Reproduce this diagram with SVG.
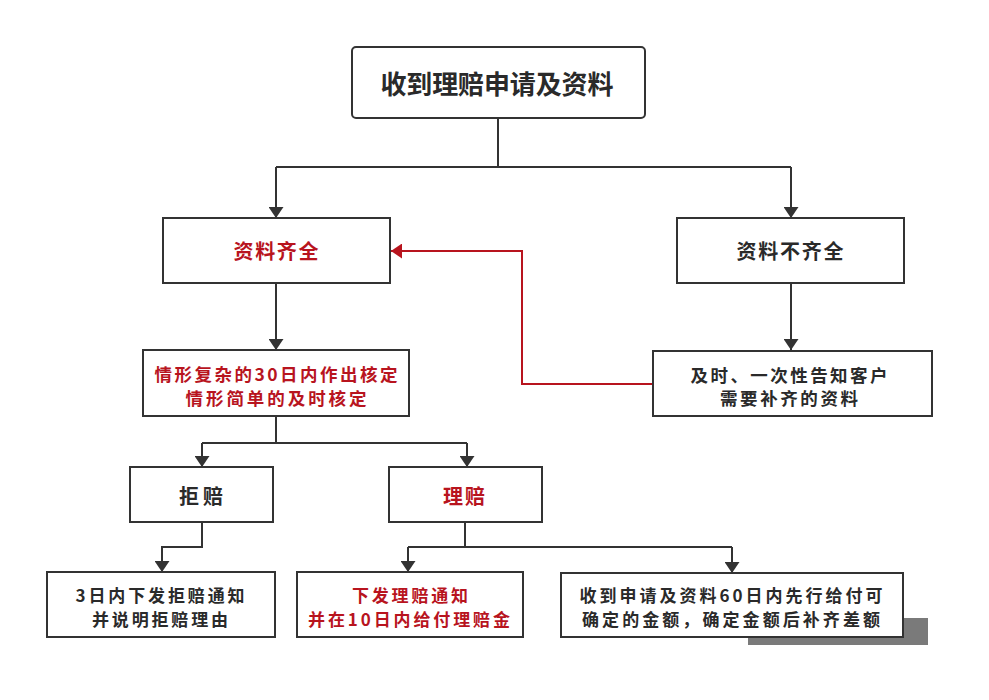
<svg xmlns="http://www.w3.org/2000/svg" width="989" height="700" viewBox="0 0 989 700">
<defs>
<marker id="ah" viewBox="0 0 11 15" refX="11" refY="7.5" markerWidth="11" markerHeight="15" markerUnits="userSpaceOnUse" orient="auto">
<path d="M0,0 L11,7.5 L0,15 Z" fill="#333"/>
</marker>
<marker id="ahr" viewBox="0 0 11 15" refX="11" refY="7.5" markerWidth="11" markerHeight="15" markerUnits="userSpaceOnUse" orient="auto">
<path d="M0,0 L11,7.5 L0,15 Z" fill="#b8141e"/>
</marker>
<style>
.box{fill:#fff;stroke:#333;stroke-width:2}
.t{font-family:"Noto Sans CJK SC","Noto Sans",sans-serif;font-weight:bold;text-anchor:middle;dominant-baseline:central;fill:#2a2a2a}
.r{fill:#b8141e}
.c{fill:none;stroke:#333;stroke-width:2}
.cr{fill:none;stroke:#b8141e;stroke-width:2}
</style>
</defs>
<rect width="989" height="700" fill="#fff"/>
<rect x="748" y="618" width="180" height="27" fill="#7a7a7a"/>
<g id="connectors">
<path class="c" d="M498,118 V167 M276,167 H791"/>
<path class="c" d="M276,167 V218" marker-end="url(#ah)"/>
<path class="c" d="M791,167 V218" marker-end="url(#ah)"/>
<path class="c" d="M276,283 V350" marker-end="url(#ah)"/>
<path class="c" d="M791,283 V350" marker-end="url(#ah)"/>
<path class="cr" d="M653,384 H522 V251 H391" marker-end="url(#ahr)"/>
<path class="c" d="M276,416 V443 M202,443 H467"/>
<path class="c" d="M202,443 V467" marker-end="url(#ah)"/>
<path class="c" d="M467,443 V467" marker-end="url(#ah)"/>
<path class="c" d="M202,522 V547 H162 V572" marker-end="url(#ah)"/>
<path class="c" d="M465,522 V547 M408,547 H732"/>
<path class="c" d="M408,547 V572" marker-end="url(#ah)"/>
<path class="c" d="M732,547 V573" marker-end="url(#ah)"/>
</g>
<g id="n-start">
<rect class="box" x="352" y="47" width="293" height="71" rx="4"/>
<text class="t" x="497" y="82" font-size="26" textLength="233">收到理赔申请及资料</text>
</g>
<g id="n-complete">
<rect class="box" x="163" y="218" width="227" height="65"/>
<text class="t r" x="276" y="250" font-size="20" textLength="85">资料齐全</text>
</g>
<g id="n-incomplete">
<rect class="box" x="677" y="218" width="227" height="65"/>
<text class="t" x="790" y="250" font-size="20" textLength="107">资料不齐全</text>
</g>
<g id="n-verify">
<rect class="box" x="143" y="350" width="266" height="66"/>
<text class="t r" x="276" y="373" font-size="17.5" textLength="243">情形复杂的30日内作出核定</text>
<text class="t r" x="276" y="397" font-size="17.5" textLength="181">情形简单的及时核定</text>
</g>
<g id="n-notify">
<rect class="box" x="653" y="351" width="279" height="65"/>
<text class="t" x="789" y="374" font-size="17.5" textLength="197">及时、一次性告知客户</text>
<text class="t" x="789" y="397" font-size="17.5" textLength="138">需要补齐的资料</text>
</g>
<g id="n-reject">
<rect class="box" x="130" y="467" width="143" height="55"/>
<text class="t" x="201" y="495" font-size="20" textLength="44">拒赔</text>
</g>
<g id="n-pay">
<rect class="box" x="389" y="467" width="153" height="55"/>
<text class="t r" x="464" y="495" font-size="20" textLength="42">理赔</text>
</g>
<g id="n-reject-notice">
<rect class="box" x="47" y="572" width="228" height="65"/>
<text class="t" x="160" y="594" font-size="17" textLength="169">3日内下发拒赔通知</text>
<text class="t" x="160" y="618" font-size="17" textLength="136">并说明拒赔理由</text>
</g>
<g id="n-pay-notice">
<rect class="box" x="297" y="572" width="226" height="65"/>
<text class="t r" x="410" y="594" font-size="17" textLength="116">下发理赔通知</text>
<text class="t r" x="409" y="618" font-size="17" textLength="202">并在10日内给付理赔金</text>
</g>
<g id="n-prepay">
<rect class="box" x="561" y="573" width="342" height="64"/>
<text class="t" x="731" y="594" font-size="17" textLength="303">收到申请及资料60日内先行给付可</text>
<text class="t" x="731" y="618" font-size="17" textLength="298">确定的金额，确定金额后补齐差额</text>
</g>
</svg>
